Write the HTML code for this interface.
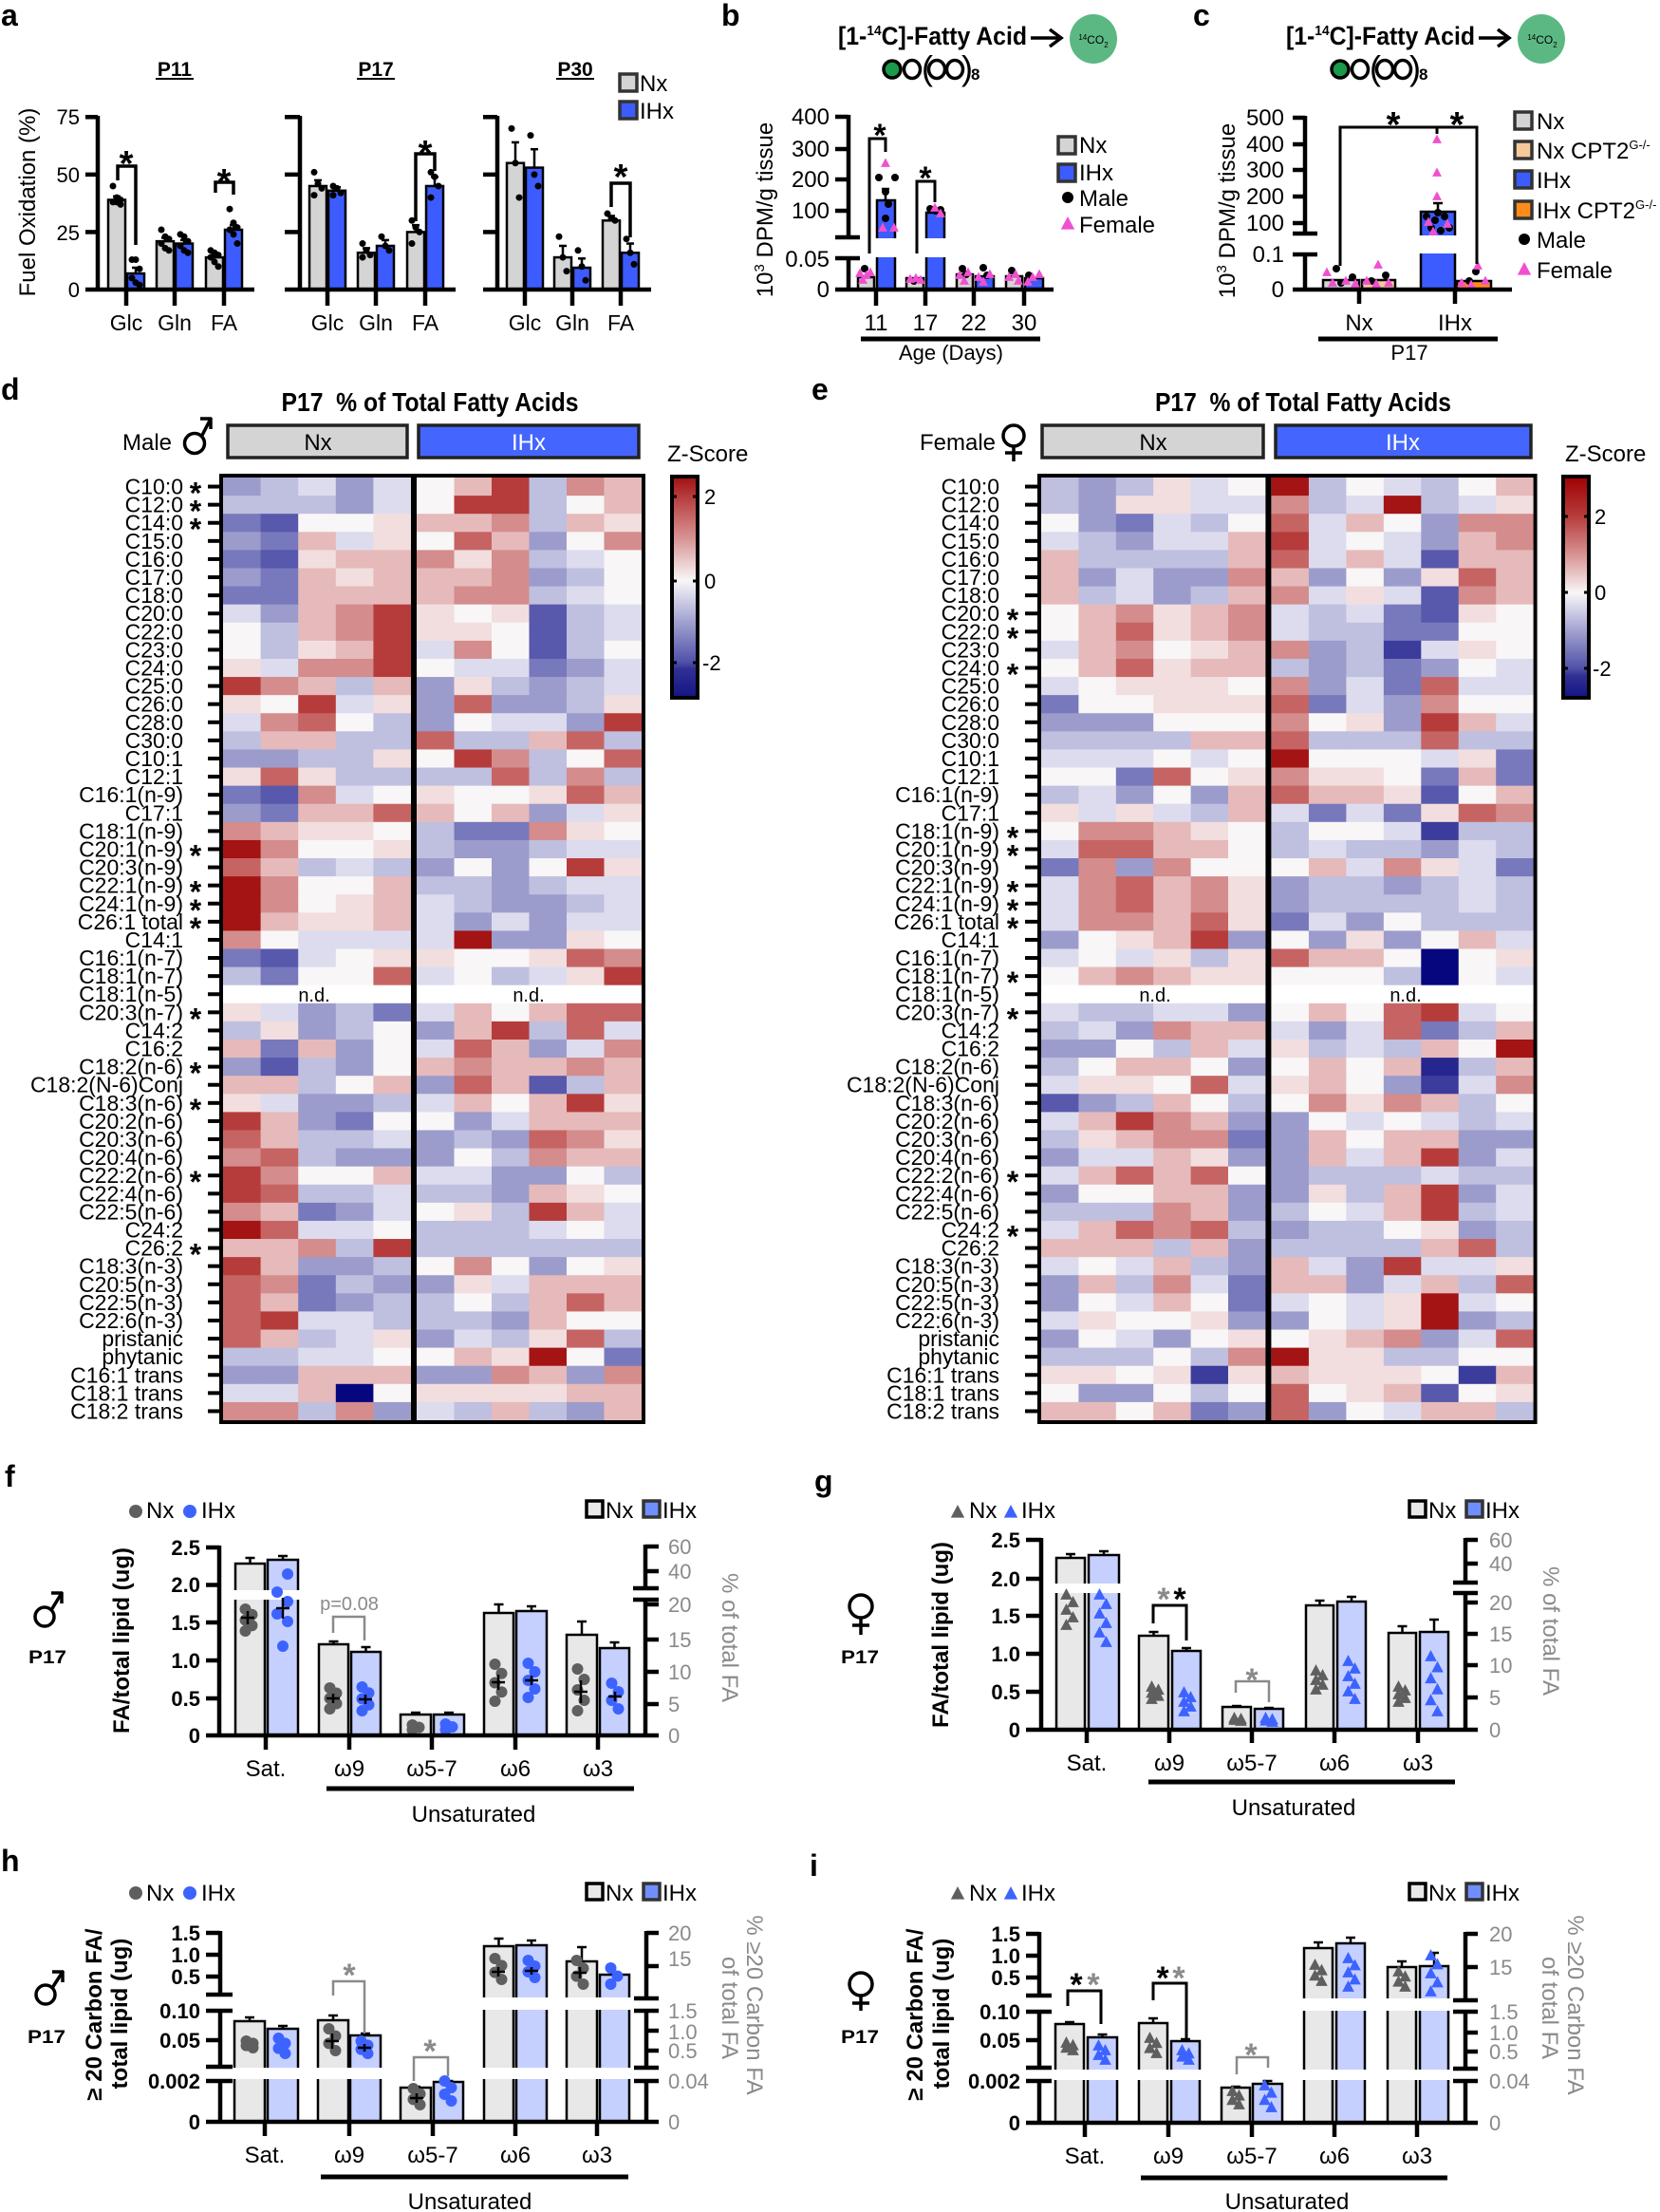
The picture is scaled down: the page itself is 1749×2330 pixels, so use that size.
<!DOCTYPE html>
<html><head><meta charset="utf-8"><title>Figure</title>
<style>
html,body{margin:0;padding:0;background:#fff;}
svg{display:block;font-family:"Liberation Sans",Arial,sans-serif;}
.b{font-weight:bold}
.gr{fill:#8a8a8a}
</style></head><body>
<svg id="s" xmlns="http://www.w3.org/2000/svg" width="1749" height="2330" viewBox="0 0 1749 2330">
<defs>
<linearGradient id="cbd" x1="0" y1="0" x2="0" y2="1">
<stop offset="0" stop-color="#9e1010"/><stop offset="0.09" stop-color="#b63c3c"/><stop offset="0.28" stop-color="#d89494"/><stop offset="0.47" stop-color="#f8f6f7"/><stop offset="0.66" stop-color="#a0a0d0"/><stop offset="0.84" stop-color="#5050a8"/><stop offset="0.87" stop-color="#303094"/><stop offset="1" stop-color="#141486"/>
</linearGradient>
<linearGradient id="cbe" x1="0" y1="0" x2="0" y2="1">
<stop offset="0" stop-color="#a00000"/><stop offset="0.18" stop-color="#b63c3c"/><stop offset="0.355" stop-color="#d89494"/><stop offset="0.526" stop-color="#f8f6f7"/><stop offset="0.7" stop-color="#a0a0d0"/><stop offset="0.868" stop-color="#5050a8"/><stop offset="0.9" stop-color="#303094"/><stop offset="1" stop-color="#141486"/>
</linearGradient>
</defs>
<rect width="1749" height="2330" fill="#fff"/>
<g id="shp"></g>
<g id="txt">
<!-- panel letters -->
<g class="b" font-size="32">
<text x="1" y="27">a</text><text x="760" y="27">b</text><text x="1257" y="27">c</text>
<text x="1" y="421">d</text><text x="855" y="421">e</text>
<text x="5" y="1566">f</text><text x="858" y="1571">g</text>
<text x="1" y="1971">h</text><text x="853" y="1976">i</text>
</g>

<!-- panel a -->
<g class="b" font-size="21" text-anchor="middle">
<text x="184" y="80">P11</text><text x="396" y="80">P17</text><text x="606" y="80">P30</text>
</g>
<g font-size="24"><text x="674" y="96">Nx</text><text x="674" y="125">IHx</text></g>
<g font-size="22" text-anchor="end"><text x="84" y="131">75</text><text x="84" y="192">50</text><text x="84" y="253">25</text><text x="84" y="313">0</text></g>
<g font-size="23" text-anchor="middle">
<text x="133" y="348">Glc</text><text x="184" y="348">Gln</text><text x="236" y="348">FA</text>
<text x="345" y="348">Glc</text><text x="396" y="348">Gln</text><text x="448" y="348">FA</text>
<text x="553" y="348">Glc</text><text x="603" y="348">Gln</text><text x="654" y="348">FA</text>
</g>
<text transform="rotate(-90 37 213)" x="37" y="213" font-size="24" text-anchor="middle">Fuel Oxidation (%)</text>
<g class="b" font-size="38" text-anchor="middle">
<text x="133" y="185">*</text><text x="236" y="204">*</text><text x="448" y="174">*</text><text x="654" y="199">*</text>
</g>

<!-- panel b -->
<text x="883" y="47" font-size="27" class="b" textLength="199" lengthAdjust="spacingAndGlyphs">[1-<tspan font-size="15" dy="-10">14</tspan><tspan dy="10">C]-Fatty Acid</tspan></text>
<text x="1152" y="46" font-size="12" text-anchor="middle"><tspan font-size="8" dy="-4">14</tspan><tspan dy="4">CO</tspan><tspan font-size="8" dy="4">2</tspan></text>
<text x="971" y="84" font-size="36">(</text><text x="1013" y="84" font-size="36">)</text>
<text x="1023" y="84" font-size="17" class="b">8</text>
<text transform="rotate(-90 814 221)" x="814" y="221" font-size="24" text-anchor="middle">10<tspan font-size="15" dy="-9">3</tspan><tspan dy="9"> DPM/g tissue</tspan></text>
<g font-size="24" text-anchor="end">
<text x="874" y="131">400</text><text x="874" y="165">300</text><text x="874" y="197">200</text><text x="874" y="230">100</text>
<text x="874" y="281">0.05</text><text x="874" y="313">0</text>
</g>
<g font-size="24" text-anchor="middle">
<text x="923" y="348">11</text><text x="975" y="348">17</text><text x="1026" y="348">22</text><text x="1079" y="348">30</text>
</g>
<text x="1002" y="379" font-size="22" text-anchor="middle">Age (Days)</text>
<g font-size="24">
<text x="1137" y="161">Nx</text><text x="1137" y="190">IHx</text><text x="1137" y="217">Male</text><text x="1137" y="245">Female</text>
</g>
<g class="b" font-size="34" text-anchor="middle"><text x="927" y="154">*</text><text x="975" y="199">*</text></g>

<!-- panel c -->
<text x="1355" y="47" font-size="27" class="b" textLength="199" lengthAdjust="spacingAndGlyphs">[1-<tspan font-size="15" dy="-10">14</tspan><tspan dy="10">C]-Fatty Acid</tspan></text>
<text x="1625" y="46" font-size="12" text-anchor="middle"><tspan font-size="8" dy="-4">14</tspan><tspan dy="4">CO</tspan><tspan font-size="8" dy="4">2</tspan></text>
<text x="1443" y="84" font-size="36">(</text><text x="1485" y="84" font-size="36">)</text>
<text x="1495" y="84" font-size="17" class="b">8</text>
<text transform="rotate(-90 1301 222)" x="1301" y="222" font-size="24" text-anchor="middle">10<tspan font-size="15" dy="-9">3</tspan><tspan dy="9"> DPM/g tissue</tspan></text>
<g font-size="24" text-anchor="end">
<text x="1353" y="132">500</text><text x="1353" y="160">400</text><text x="1353" y="187">300</text><text x="1353" y="215">200</text><text x="1353" y="243">100</text>
<text x="1353" y="276">0.1</text><text x="1353" y="313">0</text>
</g>
<g font-size="24" text-anchor="middle"><text x="1432" y="348">Nx</text><text x="1533" y="348">IHx</text></g>
<text x="1485" y="379" font-size="22" text-anchor="middle">P17</text>
<g font-size="24">
<text x="1619" y="136">Nx</text>
<text x="1619" y="167">Nx CPT2<tspan font-size="13" dy="-10">G-/-</tspan></text>
<text x="1619" y="198">IHx</text>
<text x="1619" y="230">IHx CPT2<tspan font-size="13" dy="-10">G-/-</tspan></text>
<text x="1619" y="261">Male</text><text x="1619" y="293">Female</text>
</g>
<g class="b" font-size="38" text-anchor="middle"><text x="1468" y="144">*</text><text x="1535" y="144">*</text></g>

<!-- panel d header -->
<text x="453" y="433" text-anchor="middle" font-size="28" class="b" textLength="313" lengthAdjust="spacingAndGlyphs">P17 &#160;% of Total Fatty Acids</text>
<text x="129" y="474" font-size="24">Male</text>
<text x="335" y="474" font-size="24" text-anchor="middle">Nx</text>
<text x="557" y="474" font-size="24" text-anchor="middle" fill="#fff">IHx</text>
<text x="703" y="486" font-size="24">Z-Score</text>
<g font-size="22"><text x="742" y="531">2</text><text x="742" y="620">0</text><text x="740" y="706">-2</text></g>
<!-- panel e header -->
<text x="1373" y="433" text-anchor="middle" font-size="28" class="b" textLength="312" lengthAdjust="spacingAndGlyphs">P17 &#160;% of Total Fatty Acids</text>
<text x="969" y="474" font-size="24">Female</text>
<text x="1215" y="474" font-size="24" text-anchor="middle">Nx</text>
<text x="1478" y="474" font-size="24" text-anchor="middle" fill="#fff">IHx</text>
<text x="1649" y="486" font-size="24">Z-Score</text>
<g font-size="22"><text x="1680" y="552">2</text><text x="1680" y="632">0</text><text x="1678" y="712">-2</text></g>

<!-- heatmap d labels -->
<g font-size="23" text-anchor="end">
<text x="193" y="520.5">C10:0</text><text x="193" y="539.6">C12:0</text><text x="193" y="558.7">C14:0</text><text x="193" y="577.8">C15:0</text>
<text x="193" y="596.9">C16:0</text><text x="193" y="616">C17:0</text><text x="193" y="635.1">C18:0</text><text x="193" y="654.2">C20:0</text>
<text x="193" y="673.3">C22:0</text><text x="193" y="692.4">C23:0</text><text x="193" y="711.5">C24:0</text><text x="193" y="730.6">C25:0</text>
<text x="193" y="749.7">C26:0</text><text x="193" y="768.8">C28:0</text><text x="193" y="787.9">C30:0</text><text x="193" y="807">C10:1</text>
<text x="193" y="826.1">C12:1</text><text x="193" y="845.2">C16:1(n-9)</text><text x="193" y="864.3">C17:1</text><text x="193" y="883.4">C18:1(n-9)</text>
<text x="193" y="902.5">C20:1(n-9)</text><text x="193" y="921.6">C20:3(n-9)</text><text x="193" y="940.7">C22:1(n-9)</text><text x="193" y="959.8">C24:1(n-9)</text>
<text x="193" y="978.9">C26:1 total</text><text x="193" y="998">C14:1</text><text x="193" y="1017">C16:1(n-7)</text><text x="193" y="1036.1">C18:1(n-7)</text>
<text x="193" y="1055.2">C18:1(n-5)</text><text x="193" y="1074.3">C20:3(n-7)</text><text x="193" y="1093.4">C14:2</text><text x="193" y="1112.5">C16:2</text>
<text x="193" y="1131.6">C18:2(n-6)</text><text x="193" y="1150.7">C18:2(N-6)Conj</text><text x="193" y="1169.8">C18:3(n-6)</text><text x="193" y="1188.9">C20:2(n-6)</text>
<text x="193" y="1208">C20:3(n-6)</text><text x="193" y="1227.1">C20:4(n-6)</text><text x="193" y="1246.2">C22:2(n-6)</text><text x="193" y="1265.3">C22:4(n-6)</text>
<text x="193" y="1284.4">C22:5(n-6)</text><text x="193" y="1303.5">C24:2</text><text x="193" y="1322.6">C26:2</text><text x="193" y="1341.7">C18:3(n-3)</text>
<text x="193" y="1360.8">C20:5(n-3)</text><text x="193" y="1379.9">C22:5(n-3)</text><text x="193" y="1399">C22:6(n-3)</text><text x="193" y="1418.1">pristanic</text>
<text x="193" y="1437.2">phytanic</text><text x="193" y="1456.3">C16:1 trans</text><text x="193" y="1475.4">C18:1 trans</text><text x="193" y="1494.5">C18:2 trans</text>
</g>
<g font-size="32" class="b" text-anchor="middle">
<text x="206" y="530.5">*</text><text x="206" y="549.6">*</text><text x="206" y="568.7">*</text><text x="206" y="912.5">*</text>
<text x="206" y="950.7">*</text><text x="206" y="969.8">*</text><text x="206" y="988.9">*</text><text x="206" y="1084.3">*</text>
<text x="206" y="1141.6">*</text><text x="206" y="1179.8">*</text><text x="206" y="1256.2">*</text><text x="206" y="1332.6">*</text>
</g>
<!-- heatmap e labels -->
<g font-size="23" text-anchor="end">
<text x="1053" y="520.5">C10:0</text><text x="1053" y="539.6">C12:0</text><text x="1053" y="558.7">C14:0</text><text x="1053" y="577.8">C15:0</text>
<text x="1053" y="596.9">C16:0</text><text x="1053" y="616">C17:0</text><text x="1053" y="635.1">C18:0</text><text x="1053" y="654.2">C20:0</text>
<text x="1053" y="673.3">C22:0</text><text x="1053" y="692.4">C23:0</text><text x="1053" y="711.5">C24:0</text><text x="1053" y="730.6">C25:0</text>
<text x="1053" y="749.7">C26:0</text><text x="1053" y="768.8">C28:0</text><text x="1053" y="787.9">C30:0</text><text x="1053" y="807">C10:1</text>
<text x="1053" y="826.1">C12:1</text><text x="1053" y="845.2">C16:1(n-9)</text><text x="1053" y="864.3">C17:1</text><text x="1053" y="883.4">C18:1(n-9)</text>
<text x="1053" y="902.5">C20:1(n-9)</text><text x="1053" y="921.6">C20:3(n-9)</text><text x="1053" y="940.7">C22:1(n-9)</text><text x="1053" y="959.8">C24:1(n-9)</text>
<text x="1053" y="978.9">C26:1 total</text><text x="1053" y="998">C14:1</text><text x="1053" y="1017">C16:1(n-7)</text><text x="1053" y="1036.1">C18:1(n-7)</text>
<text x="1053" y="1055.2">C18:1(n-5)</text><text x="1053" y="1074.3">C20:3(n-7)</text><text x="1053" y="1093.4">C14:2</text><text x="1053" y="1112.5">C16:2</text>
<text x="1053" y="1131.6">C18:2(n-6)</text><text x="1053" y="1150.7">C18:2(N-6)Conj</text><text x="1053" y="1169.8">C18:3(n-6)</text><text x="1053" y="1188.9">C20:2(n-6)</text>
<text x="1053" y="1208">C20:3(n-6)</text><text x="1053" y="1227.1">C20:4(n-6)</text><text x="1053" y="1246.2">C22:2(n-6)</text><text x="1053" y="1265.3">C22:4(n-6)</text>
<text x="1053" y="1284.4">C22:5(n-6)</text><text x="1053" y="1303.5">C24:2</text><text x="1053" y="1322.6">C26:2</text><text x="1053" y="1341.7">C18:3(n-3)</text>
<text x="1053" y="1360.8">C20:5(n-3)</text><text x="1053" y="1379.9">C22:5(n-3)</text><text x="1053" y="1399">C22:6(n-3)</text><text x="1053" y="1418.1">pristanic</text>
<text x="1053" y="1437.2">phytanic</text><text x="1053" y="1456.3">C16:1 trans</text><text x="1053" y="1475.4">C18:1 trans</text><text x="1053" y="1494.5">C18:2 trans</text>
</g>
<g font-size="32" class="b" text-anchor="middle">
<text x="1067" y="664.2">*</text><text x="1067" y="683.3">*</text><text x="1067" y="721.5">*</text><text x="1067" y="893.4">*</text>
<text x="1067" y="912.5">*</text><text x="1067" y="950.7">*</text><text x="1067" y="969.8">*</text><text x="1067" y="988.9">*</text>
<text x="1067" y="1046.1">*</text><text x="1067" y="1084.3">*</text><text x="1067" y="1256.2">*</text><text x="1067" y="1313.5">*</text>
</g>
<g font-size="20" text-anchor="middle">
<text x="331" y="1055">n.d.</text><text x="557" y="1055">n.d.</text><text x="1217" y="1055">n.d.</text><text x="1481" y="1055">n.d.</text>
</g>

<!-- panel f -->
<g font-size="24"><text x="154" y="1599">Nx</text><text x="212" y="1599">IHx</text><text x="638" y="1599">Nx</text><text x="698" y="1599">IHx</text></g>
<text x="50" y="1752" font-size="19" class="b" text-anchor="middle" textLength="40" lengthAdjust="spacingAndGlyphs">P17</text>
<text transform="rotate(-90 136 1728)" x="136" y="1728" font-size="24" class="b" text-anchor="middle">FA/total lipid (ug)</text>
<g font-size="22" class="b" text-anchor="end">
<text x="211" y="1638">2.5</text><text x="211" y="1677">2.0</text><text x="211" y="1717">1.5</text><text x="211" y="1757">1.0</text><text x="211" y="1797">0.5</text><text x="211" y="1836">0</text>
</g>
<g font-size="22" class="gr">
<text x="704" y="1637">60</text><text x="704" y="1663">40</text><text x="704" y="1698">20</text><text x="704" y="1735">15</text><text x="704" y="1769">10</text><text x="704" y="1803">5</text><text x="704" y="1836">0</text>
</g>
<text transform="rotate(90 761 1725)" x="761" y="1725" font-size="24" class="gr" text-anchor="middle">% of total FA</text>
<g font-size="24" text-anchor="middle">
<text x="280" y="1871">Sat.</text><text x="368" y="1871">ω9</text><text x="455" y="1871">ω5-7</text><text x="543" y="1871">ω6</text><text x="630" y="1871">ω3</text>
<text x="499" y="1919">Unsaturated</text>
</g>
<text x="368" y="1696" font-size="20" class="gr" text-anchor="middle">p=0.08</text>

<!-- panel g -->
<g font-size="24"><text x="1021" y="1599">Nx</text><text x="1076" y="1599">IHx</text><text x="1505" y="1599">Nx</text><text x="1565" y="1599">IHx</text></g>
<text x="906" y="1752" font-size="19" class="b" text-anchor="middle" textLength="40" lengthAdjust="spacingAndGlyphs">P17</text>
<text transform="rotate(-90 999 1722)" x="999" y="1722" font-size="24" class="b" text-anchor="middle">FA/total lipid (ug)</text>
<g font-size="22" class="b" text-anchor="end">
<text x="1075" y="1630">2.5</text><text x="1075" y="1671">2.0</text><text x="1075" y="1710">1.5</text><text x="1075" y="1750">1.0</text><text x="1075" y="1790">0.5</text><text x="1075" y="1830">0</text>
</g>
<g font-size="22" class="gr">
<text x="1569" y="1630">60</text><text x="1569" y="1655">40</text><text x="1569" y="1696">20</text><text x="1569" y="1729">15</text><text x="1569" y="1762">10</text><text x="1569" y="1796">5</text><text x="1569" y="1830">0</text>
</g>
<text transform="rotate(90 1626 1718)" x="1626" y="1718" font-size="24" class="gr" text-anchor="middle">% of total FA</text>
<g font-size="24" text-anchor="middle">
<text x="1145" y="1865">Sat.</text><text x="1232" y="1865">ω9</text><text x="1319" y="1865">ω5-7</text><text x="1406" y="1865">ω6</text><text x="1494" y="1865">ω3</text>
<text x="1363" y="1912">Unsaturated</text>
</g>
<g font-size="34" class="b" text-anchor="middle">
<text x="1226" y="1696" class="gr">*</text><text x="1243" y="1696">*</text><text x="1319" y="1781" class="gr">*</text>
</g>

<!-- panel h -->
<g font-size="24"><text x="154" y="2002">Nx</text><text x="212" y="2002">IHx</text><text x="638" y="2002">Nx</text><text x="698" y="2002">IHx</text></g>
<text x="49" y="2152" font-size="19" class="b" text-anchor="middle" textLength="40" lengthAdjust="spacingAndGlyphs">P17</text>
<text transform="rotate(-90 107 2122)" x="107" y="2122" font-size="24" class="b" text-anchor="middle">≥ 20 Carbon FA/</text>
<text transform="rotate(-90 134 2121)" x="134" y="2121" font-size="24" class="b" text-anchor="middle">total lipid (ug)</text>
<g font-size="22" class="b" text-anchor="end">
<text x="211" y="2044">1.5</text><text x="211" y="2067">1.0</text><text x="211" y="2090">0.5</text><text x="211" y="2126">0.10</text><text x="211" y="2157">0.05</text><text x="211" y="2200">0.002</text><text x="211" y="2243">0</text>
</g>
<g font-size="22" class="gr">
<text x="704" y="2044">20</text><text x="704" y="2071">15</text><text x="704" y="2126">1.5</text><text x="704" y="2148">1.0</text><text x="704" y="2168">0.5</text><text x="704" y="2200">0.04</text><text x="704" y="2243">0</text>
</g>
<text transform="rotate(90 787 2112)" x="787" y="2112" font-size="24" class="gr" text-anchor="middle">% ≥20 Carbon FA</text>
<text transform="rotate(90 761 2115)" x="761" y="2115" font-size="24" class="gr" text-anchor="middle">of total FA</text>
<g font-size="24" text-anchor="middle">
<text x="279" y="2278">Sat.</text><text x="368" y="2278">ω9</text><text x="456" y="2278">ω5-7</text><text x="543" y="2278">ω6</text><text x="629" y="2278">ω3</text>
<text x="495" y="2327">Unsaturated</text>
</g>
<g font-size="34" class="b gr" text-anchor="middle"><text x="368" y="2092">*</text><text x="453" y="2172">*</text></g>

<!-- panel i -->
<g font-size="24"><text x="1021" y="2002">Nx</text><text x="1076" y="2002">IHx</text><text x="1505" y="2002">Nx</text><text x="1565" y="2002">IHx</text></g>
<text x="906" y="2152" font-size="19" class="b" text-anchor="middle" textLength="40" lengthAdjust="spacingAndGlyphs">P17</text>
<text transform="rotate(-90 972 2122)" x="972" y="2122" font-size="24" class="b" text-anchor="middle">≥ 20 Carbon FA/</text>
<text transform="rotate(-90 1000 2121)" x="1000" y="2121" font-size="24" class="b" text-anchor="middle">total lipid (ug)</text>
<g font-size="22" class="b" text-anchor="end">
<text x="1075" y="2045">1.5</text><text x="1075" y="2068">1.0</text><text x="1075" y="2091">0.5</text><text x="1075" y="2127">0.10</text><text x="1075" y="2157">0.05</text><text x="1075" y="2200">0.002</text><text x="1075" y="2244">0</text>
</g>
<g font-size="22" class="gr">
<text x="1569" y="2045">20</text><text x="1569" y="2080">15</text><text x="1569" y="2127">1.5</text><text x="1569" y="2149">1.0</text><text x="1569" y="2169">0.5</text><text x="1569" y="2200">0.04</text><text x="1569" y="2244">0</text>
</g>
<text transform="rotate(90 1652 2112)" x="1652" y="2112" font-size="24" class="gr" text-anchor="middle">% ≥20 Carbon FA</text>
<text transform="rotate(90 1625 2115)" x="1625" y="2115" font-size="24" class="gr" text-anchor="middle">of total FA</text>
<g font-size="24" text-anchor="middle">
<text x="1143" y="2279">Sat.</text><text x="1231" y="2279">ω9</text><text x="1319" y="2279">ω5-7</text><text x="1406" y="2279">ω6</text><text x="1493" y="2279">ω3</text>
<text x="1356" y="2327">Unsaturated</text>
</g>
<g font-size="34" class="b" text-anchor="middle">
<text x="1134" y="2102">*</text><text x="1152" y="2102" class="gr">*</text>
<text x="1225" y="2095">*</text><text x="1242" y="2095" class="gr">*</text>
<text x="1318" y="2176" class="gr">*</text>
</g>
</g>
</svg>
<script>
(function(){
const NS='http://www.w3.org/2000/svg';
const G=document.getElementById('shp');
function el(t,a){const e=document.createElementNS(NS,t);for(const k in a)e.setAttribute(k,a[k]);G.appendChild(e);return e;}
function R(x,y,w,h,f,s,sw){return el('rect',{x:x,y:y,width:w,height:h,fill:f||'none',stroke:s||'none','stroke-width':sw||0});}
function L(x1,y1,x2,y2,sw,c){return el('line',{x1:x1,y1:y1,x2:x2,y2:y2,stroke:c||'#000','stroke-width':sw||4.5});}
function D(x,y,r,f){return el('circle',{cx:x,cy:y,r:r,fill:f});}
function T(x,y,s,f){return el('polygon',{points:x+','+(y-s)+' '+(x-s*0.9)+','+(y+s*0.7)+' '+(x+s*0.9)+','+(y+s*0.7),fill:f});}
function P(d,sw,c){return el('path',{d:d,fill:'none',stroke:c||'#000','stroke-width':sw||3});}
function bar(x0,x1,top,base,f){R(x0,top,x1-x0,base-top,f,'#000',2.5);}
function eb(cx,top,et,w){w=w||5;L(cx,top,cx,et,2.5);L(cx-w,et,cx+w,et,2.5);}
function cl(x,y1,y2,n,f,tri,r){for(let i=0;i<n;i++){const y=n>1?y1+(y2-y1)*i/(n-1):y1;const xx=x+(i%2?3.5:-3.5);if(tri)T(xx,y,r,f);else D(xx,y,r,f);}}
function mn(x,y,e){L(x-7,y,x+7,y,2.5);L(x,y-e,x,y+e,2.5);}
function male(cx,cy,r,tx,ty){el('circle',{cx:cx,cy:cy,r:r,fill:'none',stroke:'#000','stroke-width':3.5});L(cx+r*0.7,cy-r*0.7,tx,ty,3.5);L(tx-11,ty,tx+1,ty,3.5);L(tx,ty-1,tx,ty+11,3.5);}
function female(cx,cy,r,se,by){el('circle',{cx:cx,cy:cy,r:r,fill:'none',stroke:'#000','stroke-width':3.5});L(cx,cy+r,cx,se,3.5);L(cx-9,by,cx+9,by,3.5);}
const GRY='#d4d4d4',BLU='#3c5cff',NXL='#e8e8e8',IHL='#c6d0ff',DG='#5f5f5f',DB='#3d63ff',PK='#f050d0',GT='#8a8a8a';

/* ---------- panel a ---------- */
function subA(ax,bl,br,cats,data){
 const y=v=>305-2.423*v;
 cats.forEach((c,i)=>{const d=data[i];bar(c-19,c-1,y(d[0][0]),305,GRY);bar(c+1,c+19,y(d[1][0]),305,BLU);});
 cats.forEach((c,i)=>{const d=data[i];
  [[c-10,d[0]],[c+10,d[1]]].forEach(p=>{const cx=p[0],s=p[1];eb(cx,y(s[0]),y(s[0]+s[1]),4);
   s[2].forEach((v,k)=>D(cx+((k%3)-1)*4,y(v),3.5,'#000'));});});
 L(ax,122,ax,307,4.5);
 [75,50,25].forEach(v=>L(bl,y(v),ax,y(v),4.5));
 L(bl,305,br,305,4.5);
 cats.forEach(c=>L(c,305,c,322,4.5));
}
subA(103,90,268,[133,184,236],[[[39,1.5,[45,40,39,38,38,37]],[7,2.5,[13,13,9,5,3,2]]],[[21,1.5,[26,23,22,20,18,17]],[20,1.5,[24,23,21,19,17,16]]],[[14,1,[17,16,15,14,12,10]],[26,2,[35,29,27,26,24,20]]]]);
subA(316,300,480,[345,396,448],[[[45,2.5,[51,46,44,41]],[43,1.5,[45,44,42,41]]],[[16,2,[20,17,15,14]],[19,2.5,[23,19,17]]],[[25,3,[30,27,25,20]],[45,4,[51,49,45,40]]]]);
subA(524,509,686,[553,603,654],[[[55,9,[70,55,40]],[53,8,[67,50,45]]],[[14,5,[23,14,8]],[9.5,4,[17,10,4]]],[[30,2,[33,31,30]],[16,4,[22,16,11]]]]);
[[164,204],[376,416],[586,626]].forEach(u=>L(u[0],83,u[1],83,2));
P('M124,190 V175 H143 V258',3.5);P('M227,203 V192 H246 V205',3.5);P('M438,233 V162 H458 V180',3.5);P('M644,218 V193 H664 V250',3.5);
R(653,78,18,18,GRY,'#333',3.5);R(653,107,18,18,BLU,'#333',3.5);

/* ---------- panel b ---------- */
bar(904,921,292,305,GRY);bar(924,943,211,305,BLU);
bar(955,973,293,305,GRY);bar(976,995,224,305,BLU);
bar(1008,1025,289,305,GRY);bar(1028,1047,291,305,BLU);
bar(1060,1077,291,305,GRY);bar(1080,1099,293,305,BLU);
R(899,251,205,20,'#fff');
eb(933,211,199,4);
[[911,283],[926,187],[943,187],[933,202],[936,215],[933,230],[963,296],[980,220],[986,222],[991,221],[1014,283],[1018,289],[1036,282],[1040,290],[1066,285],[1084,290]].forEach(p=>D(p[0],p[1],4,'#000'));
[[906,288],[913,290],[917,287],[909,295],[933,172],[930,240],[942,240],[959,294],[965,293],[970,295],[985,219],[991,225],[1011,290],[1020,287],[1016,296],[1031,292],[1043,289],[1036,297],[1063,292],[1070,289],[1073,296],[1088,292],[1095,289],[1083,297]].forEach(p=>T(p[0],p[1],5.5,PK));
L(894,121,894,251,4.5);L(894,271,894,307,4.5);
[123,157,189,222].forEach(y=>L(880,y,894,y,4.5));L(880,250,906,250,4.5);L(880,272,906,272,4.5);
L(880,305,1110,305,4.5);[923,975,1026,1079].forEach(x=>L(x,305,x,322,4.5));
L(907,357,1096,357,5);
P('M916,267 V146 H933 V160',3);P('M966,267 V191 H985 V213',3);
R(1115,144,18,18,GRY,'#333',3.5);R(1115,173,18,18,BLU,'#333',3.5);D(1125,208,6,'#000');T(1125,236,8,PK);
// chains b & c
[0,472].forEach(o=>{
 el('ellipse',{cx:1152+o,cy:41,rx:25,ry:26,fill:'#5cb882'});
 el('circle',{cx:940+o,cy:73,r:9,fill:'#1a9a4a',stroke:'#000','stroke-width':3.5});
 [961,987,1006].forEach(x=>el('ellipse',{cx:x+o,cy:73,rx:8.5,ry:9.5,fill:'none',stroke:'#000','stroke-width':3.5}));
 L(1086+o,40,1116+o,40,3.5);P('M'+(1106+o)+',31 L'+(1118+o)+',40 L'+(1106+o)+',49',3.5);
});

/* ---------- panel c ---------- */
bar(1394,1432,295,305,GRY);bar(1435,1470,295,305,'#f7c99a');bar(1497,1533,223,305,BLU);bar(1535,1571,296,305,'#ff8c1a');
R(1380,248,200,19,'#fff');
eb(1515,223,214,5);
[[1408,283],[1425,292],[1413,298],[1460,290],[1445,296],[1503,228],[1512,232],[1522,228],[1508,240],[1518,243],[1527,240],[1515,224],[1555,286],[1548,296]].forEach(p=>D(p[0],p[1],4,'#000'));
[[1398,287],[1404,298],[1418,296],[1428,299],[1452,279],[1440,296],[1463,298],[1450,299],[1514,147],[1514,182],[1514,207],[1505,234],[1525,236],[1510,244],[1557,280],[1540,298],[1565,296],[1550,300]].forEach(p=>T(p[0],p[1],5.5,PK));
L(1375,122,1375,247,4.5);L(1375,267,1375,307,4.5);
[124,152,179,207,235].forEach(y=>L(1362,y,1375,y,4.5));L(1362,246,1388,246,4.5);L(1362,268,1388,268,4.5);
L(1362,305,1593,305,4.5);[1432,1533].forEach(x=>L(x,305,x,320,4.5));
L(1389,357,1578,357,5);
P('M1412,280 V134 H1556 V278',3);L(1514,134,1514,141,3);
R(1596,118,18,18,GRY,'#333',3.5);R(1596,149,18,18,'#f7c99a','#333',3.5);R(1596,180,18,18,BLU,'#333',3.5);R(1596,212,18,18,'#ff8c1a','#333',3.5);
D(1606,252,6,'#000');T(1606,284,8,PK);

/* ---------- heatmaps ---------- */
const PAL={A:'#06067e',Y:'#26268e',Z:'#3c3c9c',B:'#5858ac',C:'#7878bc',D:'#9c9ccc',E:'#bfbfdf',F:'#dcdcee',G:'#f8f6f7',H:'#f2dede',I:'#e6baba',J:'#d48c8c',K:'#c66464',L:'#b63c3c',M:'#a41414',n:'#ffffff'};
function heat(rows,xs,cw,bx,bw,dx,tx){
 const rh=993/52;
 rows.forEach((s,r)=>{const y=503+r*rh;
  for(let c=0;c<s.length;c++)R(xs[c],y,cw+0.7,rh+0.7,PAL[s[c]]||'#fff');
  L(tx,y+rh/2,tx+13,y+rh/2,4);});
 R(dx,501,6,997,'#000');
 R(bx,501,bw,997,'none','#000',4);
}
const M=["DEFDFGILEJI","EEEDFGLLEGI","CBGGHIIJEIH","DCIFHGKIDGJ","CBHIIJHJEFG","DCIHIIIJDEG","CCIIIIJJEFG","FDIJLHGHBEF","GEIJLHHGBEF","GEHILFJGBEG","HFJJLGFFCDF","LJIEIDHEDEF","HGLFHDKDDEH","FJKGEDGFFDL","EIIEEKEEIKE","DDEEHGLJEGK","HKHEEEEKEJE","CBJFGHGGHKI","DCIIKIGIDFH","JIHHGECCJHG","MJGGHEDDEFF","KIEFEDGDGLH","MJGGIEEDEFF","MJGHIFEDDEF","MIHHIFDFDFF","JGFFFFMDDHG","CBFGHHGGHKJ","ECGGKFGEFHL","nnnnnnnnnnn","HFDECFIGIKK","EHDEGDILEKF","ICIDGFKIDFJ","DBEDGIJIIJI","IIEGIDKIBEI","HFDDEFIGILH","LIDCGGDFIII","KIEEFDEDKJH","JKEDDDGEJII","LJGGIFFDDGE","LKEEFEEDIHG","JICDFGHELIF","MKFFGEEEFGF","IIJELEEEEEE","LIDDEGJGDGH","KJCEDDHFIII","KICDEEGEIKI","KLFFEEEDIGG","KIEFHDFEHKE","EEFFGGIHMGC","DDIIIDDJIDJ","FFIAGHHHHII","JJEJDFEIEDI"];
const F=["EDEHFGMEGFEGI","EDHHFFJEFMEFH","GDCFEGKFIGDJJ","FEDFFILFGFDIJ","IEEEEIKFIFBII","IDFDDJIDGDHKI","IEFDEIJFHFBJI","GIJHIJFEFCBHG","GIKHIJFEECCGG","FIJGHIJDEZFHG","GIKHIIEDECDGF","FGHHHGJDFCKFF","CGGHHHKCFDJGG","DDDGGGJGHDLIF","EEEEIIKEEEKEE","FFFGFGMGGGFHC","GGCKGHJHHGCIC","EFDGDIKIIHBGI","HFHFEIFCFCHKJ","GJJIHGEGGFZEE","FKKIIGEFEEDFE","CJDJGGGIFJHFC","FJKIJHDEEDEFE","FJKIJHDEEEEFE","FJJIKHCFDGEEE","DGHILDGDHDGIF","FGFHEHKIIGAGH","GIJIHHGGGEAGF","nnnnnnnnnnnnn","FEEFFDGIGKLFG","EFDJIIFDFKCEI","DDGEIFHEFEIGM","EGIIGDGIGIYEI","FHHGKFHIGDZFJ","BDEIGEGJHJIEG","FILJIDDGFGFEF","EHIJJCDIGIIDD","DFFIHDDIFILDF","FIKIKGDEEEFEE","DGGIIDDHEILDF","EEEJIDEGFILEF","FIKJKEDEEGHDE","IIIEIDEEEEIKE","FGFIEDIFDLFFH","DIEJFCIIDFIEK","DGFIGCFGFHMFG","FHGGHDDGFHMDE","DGFDGHGHIJDFK","EEEGEJMHHEEGG","HHGHZHIHHHGZI","GDDGEGKGHIBGH","IIGICDKDGFIIE"];
heat(M,[235,274.6,314.2,353.8,393.4,439,478.5,518,557.5,597,636.5],39.6,233,445,433,219);
heat(F,[1097,1136.4,1175.8,1215.2,1254.6,1294,1339.5,1378.95,1418.4,1457.85,1497.3,1536.75,1576.2],39.45,1095,522.6,1333.4,1080);
// headers
R(240,448,189,34,'#d4d4d4','#222',3.5);R(441,448,232,34,'#4466ff','#222',3.5);
R(1098,448,233,34,'#d4d4d4','#222',3.5);R(1344,448,269,34,'#4466ff','#222',3.5);
male(205,467,10.5,222,441);female(1068,459,11,486,477);
// colorbars
R(708,502,27,233,'url(#cbd)','#000',4);
[523,612,698].forEach(y=>{L(706,y,713,y,3);L(730,y,737,y,3);});
R(1647,502,27,233,'url(#cbe)','#000',4);
[544,624,704].forEach(y=>{L(1645,y,1652,y,3);L(1669,y,1676,y,3);});

/* ---------- panel f ---------- */
const fb=[[248,279,1647,1641],[282,314,1643,1639],[336,367,1732,1729],[370,401,1740,1735],[422,454,1806,1804],[457,489,1806,1804],[510,541,1699,1690],[544,576,1697,1692],[597,629,1722,1708],[632,663,1736,1730]];
fb.forEach((b,i)=>bar(b[0],b[1],b[2],1828,i%2?IHL:NXL));
R(244,1675,74,10,'#fff');
fb.forEach(b=>eb((b[0]+b[1])/2,b[2],b[3],5));
cl(262,1695,1718,5,DG,false,6);
[[303,1658],[292,1677],[303,1687],[292,1700],[303,1708],[298,1734]].forEach(p=>D(p[0],p[1],6,DB));
mn(261,1704,7);mn(298,1694,11);
cl(351,1778,1800,5,DG,false,6);cl(385,1777,1802,5,DB,false,6);mn(351,1789,5);mn(385,1790,5);
cl(438,1817,1822,3,DG,false,6);cl(473,1816,1822,3,DB,false,6);
cl(525,1753,1792,5,DG,false,6);cl(560,1752,1788,5,DB,false,6);mn(525,1772,8);mn(560,1770,5);
cl(612,1758,1802,5,DG,false,6);cl(648,1773,1800,4,DB,false,6);mn(612,1782,12);mn(648,1787,5);
L(231,1628,231,1830,4.5);[1630,1669.5,1709,1749,1789].forEach(y=>L(217,y,231,y,4.5));
L(217,1828,694,1828,4.5);[280,368,455,543,630].forEach(x=>L(x,1828,x,1843,4.5));
L(680,1627,680,1673,4.5);L(680,1685,680,1830,4.5);[1629,1655,1690,1727,1761,1795].forEach(y=>L(680,y,694,y,4.5));
L(667,1673,694,1673,4.5);L(667,1685,694,1685,4.5);
L(344,1884,668,1884,5);
P('M351,1720 V1703 H384 V1728',2.5,GT);
D(143,1592,7,DG);D(200,1592,7,DB);
R(618,1581,17,17,NXL,'#000',3.5);R(678,1581,17,17,'#6f8fff','#333',3.5);
male(47,1703,10,65,1678);

/* ---------- panel g ---------- */
const gb=[[1113,1143,1641,1637],[1147,1179,1638,1634],[1200,1231,1723,1719],[1235,1265,1739,1736],[1288,1318,1798,1797],[1322,1352,1800,1799],[1376,1405,1691,1686],[1409,1439,1687,1682],[1463,1492,1720,1713],[1496,1526,1719,1706]];
gb.forEach((b,i)=>bar(b[0],b[1],b[2],1822,i%2?IHL:NXL));
R(1109,1668,74,10,'#fff');
gb.forEach(b=>eb((b[0]+b[1])/2,b[2],b[3],5));
cl(1127,1680,1712,5,DG,true,7);cl(1162,1680,1730,6,DB,true,7);
cl(1217,1777,1790,5,DG,true,7);cl(1251,1783,1803,5,DB,true,7);
cl(1304,1810,1813,4,DG,true,7);cl(1337,1810,1814,4,DB,true,7);
cl(1390,1760,1780,5,DG,true,7);cl(1424,1750,1790,6,DB,true,7);
cl(1477,1777,1793,5,DG,true,7);cl(1511,1745,1803,6,DB,true,7);
L(1097,1620,1097,1824,4.5);[1622,1663,1702,1742,1782].forEach(y=>L(1081,y,1097,y,4.5));
L(1081,1822,1557,1822,4.5);[1145,1232,1319,1406,1494].forEach(x=>L(x,1822,x,1836,4.5));
L(1544,1620,1544,1667,4.5);L(1544,1678,1544,1824,4.5);[1622,1647,1688,1721,1754,1788].forEach(y=>L(1544,y,1557,y,4.5));
L(1531,1667,1557,1667,4.5);L(1531,1678,1557,1678,4.5);
L(1210,1877,1533,1877,5);
P('M1215,1710 V1691 H1250 V1728',3);P('M1302,1783 V1771 H1337 V1793',2.5,GT);
T(1009,1593,8,DG);T(1065,1593,8,DB);
R(1485,1581,17,17,NXL,'#000',3.5);R(1545,1581,17,17,'#6f8fff','#333',3.5);
female(907,1692,12,1722,1712);

/* ---------- panel h ---------- */
const hb=[[247,279,2129,2125],[282,314,2137,2134],[335,367,2128,2123],[369,401,2144,2142],[422,454,2199,2198],[457,488,2193,2192],[510,541,2050,2042],[544,576,2049,2044],[597,629,2066,2051],[632,663,2080,2078]];
hb.forEach((b,i)=>bar(b[0],b[1],b[2],2235,i%2?IHL:NXL));
R(240,2104,430,13,'#fff');R(240,2178,430,12,'#fff');
hb.forEach(b=>eb((b[0]+b[1])/2,b[2],b[3],5));
cl(263,2150,2157,4,DG,false,6);cl(297,2147,2163,4,DB,false,6);
cl(350,2137,2160,4,DG,false,6);cl(384,2150,2163,4,DB,false,6);mn(350,2150,8);mn(384,2157,4);
cl(439,2200,2217,4,DG,false,6);cl(472,2192,2213,4,DB,false,6);mn(439,2210,5);
cl(525,2063,2085,4,DG,false,6);cl(560,2065,2083,4,DB,false,6);mn(525,2077,5);mn(560,2076,4);
cl(611,2065,2090,4,DG,false,6);cl(647,2073,2090,3,DB,false,6);mn(611,2078,6);
L(232,2034,232,2101,4.5);L(232,2118,232,2177,4.5);L(232,2192,232,2237,4.5);
[2036,2059,2082,2149].forEach(y=>L(217,y,232,y,4.5));[2101,2118,2177,2192].forEach(y=>L(217,y,245,y,4.5));
L(217,2235,694,2235,4.5);[279,368,456,543,629].forEach(x=>L(x,2235,x,2250,4.5));
L(681,2034,681,2105,4.5);L(681,2118,681,2178,4.5);L(681,2192,681,2237,4.5);
[2036,2071,2139,2160].forEach(y=>L(681,y,694,y,4.5));[2105,2118,2178,2192].forEach(y=>L(668,y,694,y,4.5));
L(338,2293,662,2293,5);
P('M351,2102 V2087 H384 V2142',2.5,GT);P('M436,2192 V2167 H472 V2187',2.5,GT);
D(143,1994,7,DG);D(200,1994,7,DB);
R(618,1984,17,17,NXL,'#000',3.5);R(678,1984,17,17,'#6f8fff','#333',3.5);
male(48,2101,10,66,2077);

/* ---------- panel i ---------- */
const ib=[[1112,1142,2132,2130],[1146,1177,2146,2143],[1200,1230,2131,2126],[1234,1264,2150,2148],[1287,1317,2199,2198],[1320,1351,2195,2192],[1374,1404,2052,2046],[1408,1438,2047,2041],[1462,1492,2072,2066],[1496,1526,2071,2057]];
ib.forEach((b,i)=>bar(b[0],b[1],b[2],2236,i%2?IHL:NXL));
R(1105,2105,430,13,'#fff');R(1105,2180,430,11,'#fff');
ib.forEach(b=>eb((b[0]+b[1])/2,b[2],b[3],5));
cl(1127,2152,2160,4,DG,true,7);cl(1161,2155,2170,4,DB,true,7);
cl(1215,2147,2163,4,DG,true,7);cl(1249,2160,2170,4,DB,true,7);
cl(1302,2203,2217,4,DG,true,7);cl(1336,2197,2220,4,DB,true,7);
cl(1389,2070,2087,4,DG,true,7);cl(1424,2063,2093,5,DB,true,7);
cl(1477,2077,2093,4,DG,true,7);cl(1511,2060,2098,5,DB,true,7);
L(1095,2035,1095,2102,4.5);L(1095,2119,1095,2178,4.5);L(1095,2192,1095,2238,4.5);
[2037,2060,2083,2149].forEach(y=>L(1081,y,1095,y,4.5));[2102,2119,2178,2192].forEach(y=>L(1081,y,1108,y,4.5));
L(1081,2236,1557,2236,4.5);[1143,1231,1319,1406,1493].forEach(x=>L(x,2236,x,2251,4.5));
L(1544,2035,1544,2107,4.5);L(1544,2119,1544,2179,4.5);L(1544,2192,1544,2238,4.5);
[2037,2072,2141,2161].forEach(y=>L(1544,y,1557,y,4.5));[2107,2119,2179,2192].forEach(y=>L(1531,y,1557,y,4.5));
L(1202,2294,1525,2294,5);
P('M1125,2113 V2097 H1160 V2132',3);P('M1215,2107 V2089 H1250 V2148',3);P('M1303,2185 V2167 H1336 V2178',2.5,GT);
T(1009,1995,8,DG);T(1065,1995,8,DB);
R(1485,1984,17,17,NXL,'#000',3.5);R(1545,1984,17,17,'#6f8fff','#333',3.5);
female(907,2090,12,2118,2110);
})();
</script>
</body></html>
